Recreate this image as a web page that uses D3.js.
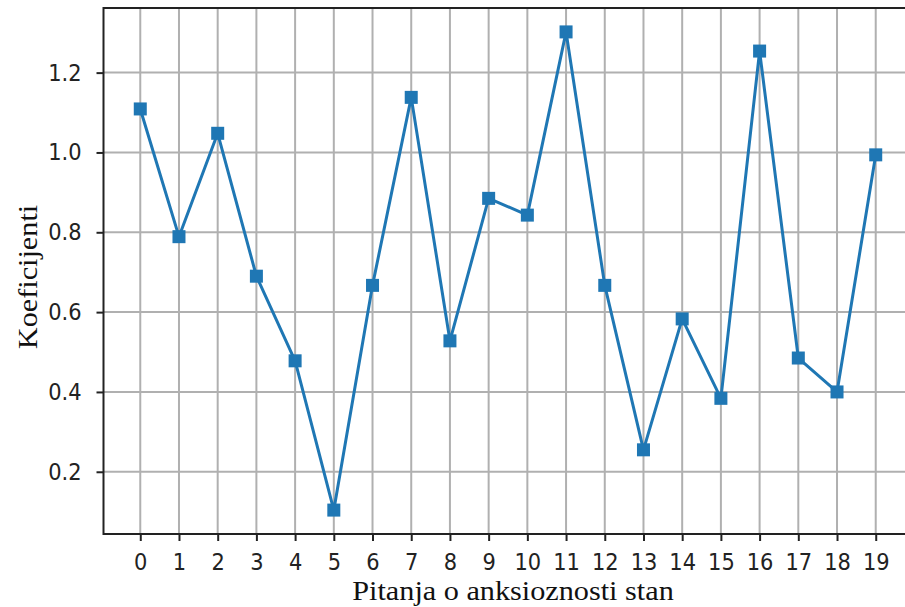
<!DOCTYPE html>
<html>
<head>
<meta charset="utf-8">
<script src="https://cdn.jsdelivr.net/npm/d3@7"></script>
<style>
  html, body { margin: 0; padding: 0; background: #fff; }
  svg { display: block; }
</style>
</head>
<body>
<div id="chart"></div>
<script>
// --- data ---
const questions = d3.range(0, 20);
const coefficients = [1.109, 0.789, 1.048, 0.690, 0.478, 0.104, 0.667, 1.138, 0.528, 0.885,
                      0.843, 1.302, 0.667, 0.255, 0.583, 0.384, 1.254, 0.485, 0.400, 0.994];
const yTicks = [0.2, 0.4, 0.6, 0.8, 1.0, 1.2];
const xTitle = "Pitanja o anksioznosti stan";
const yTitle = "Koeficijenti";

const width = 905, height = 607;
const plot = { left: 103.5, right: 912.5, top: 8, bottom: 534 };

const svg = d3.select("#chart").append("svg")
    .attr("width", width)
    .attr("height", height);

// matplotlib-like 5% margins
const xPad = (d3.max(questions) - d3.min(questions)) * 0.05;
const x = d3.scaleLinear()
    .domain([d3.min(questions) - xPad, d3.max(questions) + xPad])
    .range([plot.left, plot.right]);

const [yMin, yMax] = d3.extent(coefficients);
const yPad = (yMax - yMin) * 0.05;
const y = d3.scaleLinear()
    .domain([yMin - yPad, yMax + yPad])
    .range([plot.bottom, plot.top]);

// grid
const grid = svg.append("g").attr("stroke", "#b0b0b0").attr("stroke-width", 2);
grid.selectAll("line.vx").data(questions).join("line")
    .attr("x1", d => x(d)).attr("x2", d => x(d))
    .attr("y1", plot.top).attr("y2", plot.bottom);
grid.selectAll("line.hy").data(yTicks).join("line")
    .attr("y1", d => y(d)).attr("y2", d => y(d))
    .attr("x1", plot.left).attr("x2", plot.right);

// line + square markers
const line = d3.line()
    .x((d, i) => x(questions[i]))
    .y(d => y(d));

svg.append("path")
    .datum(coefficients)
    .attr("fill", "none")
    .attr("stroke", "#1f77b4")
    .attr("stroke-width", 3)
    .attr("stroke-linejoin", "round")
    .attr("d", line);

const ms = 13;
svg.append("g").selectAll("rect").data(coefficients).join("rect")
    .attr("x", (d, i) => x(questions[i]) - ms / 2)
    .attr("y", d => y(d) - ms / 2)
    .attr("width", ms)
    .attr("height", ms)
    .attr("fill", "#1f77b4");

// axes
const xAxis = d3.axisBottom(x).tickValues(questions).tickSize(7).tickPadding(10)
    .tickFormat(d3.format("d"));
const yAxis = d3.axisLeft(y).tickValues(yTicks).tickSize(7).tickPadding(15)
    .tickFormat(d3.format(".1f"));

const gx = svg.append("g")
    .attr("transform", `translate(0,${plot.bottom})`)
    .call(xAxis);
const gy = svg.append("g")
    .attr("transform", `translate(${plot.left},0)`)
    .call(yAxis);

// the reference glyphs are a bit taller than wide, so stretch them vertically
[gx, gy].forEach(g => {
    g.select(".domain").remove();
    g.selectAll(".tick line").attr("stroke", "#222").attr("stroke-width", 2);
    g.selectAll(".tick text")
        .attr("fill", "#222")
        .attr("transform", "scale(1,1.12)")
        .style("font-family", "'DejaVu Sans', sans-serif")
        .style("font-size", "21px");
});

// spines
svg.append("rect")
    .attr("x", plot.left).attr("y", plot.top)
    .attr("width", plot.right - plot.left)
    .attr("height", plot.bottom - plot.top)
    .attr("fill", "none")
    .attr("stroke", "#222")
    .attr("stroke-width", 2);

// titles (serif, slightly wide)
svg.append("text")
    .attr("transform", "translate(513,600) scale(1.08,1)")
    .attr("text-anchor", "middle")
    .style("font-family", "'Liberation Serif', 'Times New Roman', serif")
    .style("font-size", "28px")
    .attr("fill", "#111")
    .text(xTitle);

svg.append("text")
    .attr("transform", `translate(37,${(plot.top + plot.bottom) / 2 + 6}) rotate(-90) scale(1.08,1)`)
    .attr("text-anchor", "middle")
    .style("font-family", "'Liberation Serif', 'Times New Roman', serif")
    .style("font-size", "28px")
    .attr("fill", "#111")
    .text(yTitle);
</script>
</body>
</html>
